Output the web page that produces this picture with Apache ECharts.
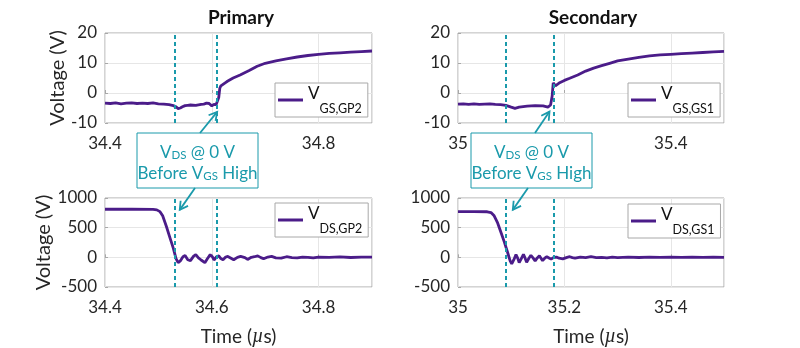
<!DOCTYPE html>
<html><head><meta charset="utf-8">
<script src="https://cdn.jsdelivr.net/npm/echarts@6/dist/echarts.min.js"></script>
<style>html,body{margin:0;padding:0;background:#fff}#c{width:800px;height:348px}</style>
</head><body><div id="c"></div>
<script>
// ---------------- data ----------------
const titles = ['Primary', 'Secondary'];
const yName = 'Voltage (V)';
const xName = 'Time ({i|\u00b5}s)';
const xRangeL = [34.4, 34.9];
const xRangeR = [35, 35.5];
const xInterval = 0.2;
const yRangeGS = [-10, 20], yIntervalGS = 10;
const yRangeDS = [-500, 1000], yIntervalDS = 500;
const markTimesL = [34.533, 34.613];
const markTimesR = [35.094, 35.18];
const legendSubs = ['GS,GP2', 'DS,GP2', 'GS,GS1', 'DS,GS1'];
const annotLines = [['V', 'DS', ' @ 0 V'], ['Before V', 'GS', ' High']];

// Primary V_GS
const tGsL = [34.40,34.41,34.42,34.43,34.44,34.45,34.46,34.47,34.48,34.49,34.50,34.51,34.52,34.528,34.533,34.537,34.541,34.545,34.55,34.555,34.56,34.57,34.58,34.585,34.59,34.595,34.60,34.604,34.608,34.611,34.613,34.615,34.617,34.62,34.625,34.63,34.64,34.653,34.67,34.685,34.70,34.72,34.74,34.76,34.78,34.80,34.82,34.84,34.86,34.88,34.90];
const vGsL = [-3.4,-3.5,-3.3,-3.6,-3.4,-3.3,-3.5,-3.4,-3.5,-3.3,-3.6,-3.7,-3.9,-4.2,-4.6,-5.2,-5.0,-4.6,-4.2,-4.1,-4.0,-4.1,-3.8,-3.7,-3.4,-3.5,-4.3,-3.8,-3.9,-4.0,-1.5,1.6,2.4,2.9,3.4,4.0,5.0,6.0,7.5,8.9,9.9,10.7,11.4,12.0,12.5,12.9,13.2,13.4,13.6,13.8,14.0];
// Primary V_DS
const tDsL = [34.40,34.45,34.49,34.497,34.503,34.508,34.515,34.522,34.528,34.533,34.537,34.541,34.546,34.550,34.555,34.560,34.566,34.570,34.575,34.580,34.587,34.592,34.597,34.601,34.604,34.609,34.613,34.617,34.621,34.626,34.630,34.636,34.641,34.648,34.654,34.657,34.662,34.667,34.674,34.680,34.686,34.692,34.697,34.705,34.712,34.72,34.73,34.74,34.75,34.76,34.77,34.78,34.79,34.80,34.82,34.84,34.86,34.88,34.90];
const vDsL = [810,812,808,800,770,700,520,320,150,-20,-90,-60,10,30,-40,-55,20,45,-10,-45,-90,-20,45,10,-45,10,25,-20,-40,5,15,-15,-40,0,15,35,-5,-35,0,10,25,-5,-25,5,15,-10,-15,10,-5,-10,5,0,-10,5,0,8,-3,5,2];
// Secondary V_GS
const tGsR = [35.00,35.01,35.02,35.03,35.04,35.05,35.06,35.07,35.08,35.09,35.10,35.107,35.115,35.13,35.145,35.16,35.169,35.174,35.177,35.179,35.183,35.19,35.20,35.21,35.225,35.24,35.255,35.27,35.285,35.30,35.32,35.34,35.36,35.38,35.40,35.42,35.44,35.46,35.48,35.50];
const vGsR = [-3.7,-3.6,-3.8,-3.6,-3.8,-3.7,-3.6,-3.8,-3.9,-4.1,-4.7,-5.1,-4.7,-4.4,-4.2,-4.3,-4.7,-4.0,-1.0,3.4,2.4,3.3,4.2,4.9,6.0,7.3,8.3,9.1,9.9,10.7,11.3,11.9,12.4,12.7,12.9,13.1,13.3,13.5,13.7,13.9];
// Secondary V_DS
const tDsR = [35.00,35.03,35.055,35.062,35.068,35.074,35.080,35.087,35.093,35.098,35.101,35.105,35.109,35.112,35.115,35.119,35.123,35.126,35.129,35.133,35.137,35.141,35.145,35.149,35.153,35.156,35.159,35.163,35.167,35.171,35.175,35.180,35.185,35.19,35.197,35.205,35.21,35.215,35.22,35.23,35.24,35.25,35.26,35.27,35.28,35.29,35.30,35.32,35.34,35.36,35.38,35.40,35.42,35.44,35.46,35.48,35.50];
const vDsR = [770,772,768,755,700,590,440,260,90,-60,-110,-40,45,-10,-90,-20,50,-10,-85,-20,35,-10,-60,-10,25,-15,-55,-15,10,-10,-30,0,5,-15,-25,0,10,-5,-15,5,-5,10,-5,0,-8,5,-5,5,-3,5,-2,3,-2,4,-1,3,0];

// ---------------- style ----------------
const PURPLE = '#4b1c89';
const TEAL = '#1a9aab';
const FONT = 'Lato';
const AXC = '#262626';

const zip = (t, v) => t.map((x, i) => [x, v[i]]);
const grids = [
  {left: 105, top: 33, width: 267, height: 90},
  {left: 105, top: 198, width: 267, height: 90},
  {left: 458, top: 33, width: 266, height: 90},
  {left: 458, top: 198, width: 266, height: 90}
];
const xr = [xRangeL, xRangeL, xRangeR, xRangeR];
const yr = [yRangeGS, yRangeDS, yRangeGS, yRangeDS];
const yi = [yIntervalGS, yIntervalDS, yIntervalGS, yIntervalDS];
const marks = [markTimesL, markTimesL, markTimesR, markTimesR];
const dataSets = [zip(tGsL, vGsL), zip(tDsL, vDsL), zip(tGsR, vGsR), zip(tDsR, vDsR)];
const names = ['sGsL', 'sDsL', 'sGsR', 'sDsR'];
const legendPos = [[275, 83], [275, 203], [628, 83], [628, 204]];

const option = {
  animation: false,
  backgroundColor: '#fff',
  title: titles.map((t, i) => ({
    text: t, left: i === 0 ? 236 : 588, top: 3, textAlign: 'center',
    textStyle: {fontFamily: FONT, fontSize: 19, fontWeight: 'bold', color: '#111'}
  })),
  grid: grids.map(g => Object.assign({show: true, borderColor: '#a8a8a8', borderWidth: 1, containLabel: false}, g)),
  xAxis: grids.map((g, i) => ({
    type: 'value', gridIndex: i, min: xr[i][0], max: xr[i][1], interval: xInterval,
    axisLine: {show: false}, axisTick: {show: true, inside: true, length: 3, lineStyle: {color: '#a8a8a8'}},
    splitLine: {show: true, lineStyle: {color: '#e6e6e6', width: 1}},
    axisLabel: {fontFamily: FONT, fontSize: 17, color: AXC, margin: 12, showMaxLabel: false,
      formatter: v => String(+v.toFixed(2))},
    name: (i === 1 || i === 3) ? xName : '', nameLocation: 'middle', nameGap: 40,
    nameTextStyle: {fontFamily: FONT, fontSize: 19, color: AXC,
      rich: {i: {fontFamily: 'Liberation Serif', fontStyle: 'italic', fontSize: 20, color: AXC}}}
  })),
  yAxis: grids.map((g, i) => ({
    type: 'value', gridIndex: i, min: yr[i][0], max: yr[i][1], interval: yi[i],
    axisLine: {show: false}, axisTick: {show: true, inside: true, length: 3, lineStyle: {color: '#a8a8a8'}},
    splitLine: {show: true, lineStyle: {color: '#e6e6e6', width: 1}},
    axisLabel: {fontFamily: FONT, fontSize: 17, color: AXC, margin: 8, formatter: v => String(v)},
    name: i < 2 ? yName : '', nameLocation: 'middle', nameGap: 33,
    nameTextStyle: {fontFamily: FONT, fontSize: 20, color: AXC}
  })),
  legend: grids.map((g, i) => ({
    data: [names[i]], left: legendPos[i][0], top: legendPos[i][1],
    orient: 'vertical', padding: [2, 6, 2, 3],
    borderColor: '#a8a8a8', borderWidth: 1, backgroundColor: '#fff',
    itemWidth: 25, itemHeight: 3, icon: 'rect', selectedMode: false,
    formatter: () => '{v|V}{s|' + legendSubs[i] + '}',
    textStyle: {
      rich: {
        v: {fontFamily: FONT, fontSize: 17, lineHeight: 17, verticalAlign: 'top', color: '#111'},
        s: {fontFamily: FONT, fontSize: 12.5, lineHeight: 30, verticalAlign: 'bottom', color: '#111'}
      }
    }
  })),
  series: dataSets.map((d, i) => ({
    name: names[i], type: 'line', xAxisIndex: i, yAxisIndex: i, data: d,
    symbol: 'none', showSymbol: false, clip: true,
    lineStyle: {color: PURPLE, width: 2.8}, itemStyle: {color: PURPLE},
    markLine: {
      silent: true, symbol: ['none', 'none'], label: {show: false},
      lineStyle: {color: TEAL, type: [4, 3], width: 2},
      data: marks[i].map(t => ({xAxis: t}))
    }
  }))
};

const chart = echarts.init(document.getElementById('c'), null, {renderer: 'canvas'});
chart.setOption(option);

// ---------------- annotations ----------------
const boxes = [
  {x: 137, y: 133, w: 121, h: 55, top: 63, bot: 58, tipTop: [0, [34.610, -6.3]], tipBot: [1, [34.540, 800]]},
  {x: 471, y: 133, w: 121, h: 55, top: 64, bot: 57, tipTop: [2, [35.172, -6.2]], tipBot: [3, [35.103, 800]]}
];
function arrow(from, to) {
  const dx = to[0] - from[0], dy = to[1] - from[1];
  const L = Math.hypot(dx, dy), ux = dx / L, uy = dy / L;
  const hl = 8, hw = 4.5;
  const bx = to[0] - ux * hl, by = to[1] - uy * hl;
  return [
    {type: 'line', z: 100, shape: {x1: from[0], y1: from[1], x2: to[0], y2: to[1]}, style: {stroke: TEAL, lineWidth: 1.8}},
    {type: 'polyline', z: 100, shape: {points: [[bx - uy * hw, by + ux * hw], to, [bx + uy * hw, by - ux * hw]]},
      style: {stroke: TEAL, lineWidth: 1.8, fill: null}}
  ];
}
const gfx = [];
boxes.forEach(b => {
  gfx.push({type: 'rect', z: 100, shape: {x: b.x, y: b.y, width: b.w, height: b.h},
    style: {fill: '#fff', stroke: TEAL, lineWidth: 1}});
  const txt = annotLines.map(l => '{b|' + l[0] + '}{s|' + l[1] + '}{b|' + l[2] + '}').join('\n');
  gfx.push({type: 'text', z: 101, x: b.x + b.w / 2, y: b.y + b.h / 2 + 1,
    style: {text: txt, align: 'center', verticalAlign: 'middle', fill: TEAL,
      rich: {
        b: {fontFamily: FONT, fontSize: 17, lineHeight: 21, color: TEAL, verticalAlign: 'bottom'},
        s: {fontFamily: FONT, fontSize: 11.5, lineHeight: 17, color: TEAL, verticalAlign: 'bottom'}
      }}});
  const tt = chart.convertToPixel({gridIndex: b.tipTop[0]}, b.tipTop[1]);
  const tb = chart.convertToPixel({gridIndex: b.tipBot[0]}, b.tipBot[1]);
  arrow([b.x + b.top, b.y], tt).forEach(e => gfx.push(e));
  arrow([b.x + b.bot, b.y + b.h], tb).forEach(e => gfx.push(e));
});
chart.setOption({graphic: gfx});
</script></body></html>
